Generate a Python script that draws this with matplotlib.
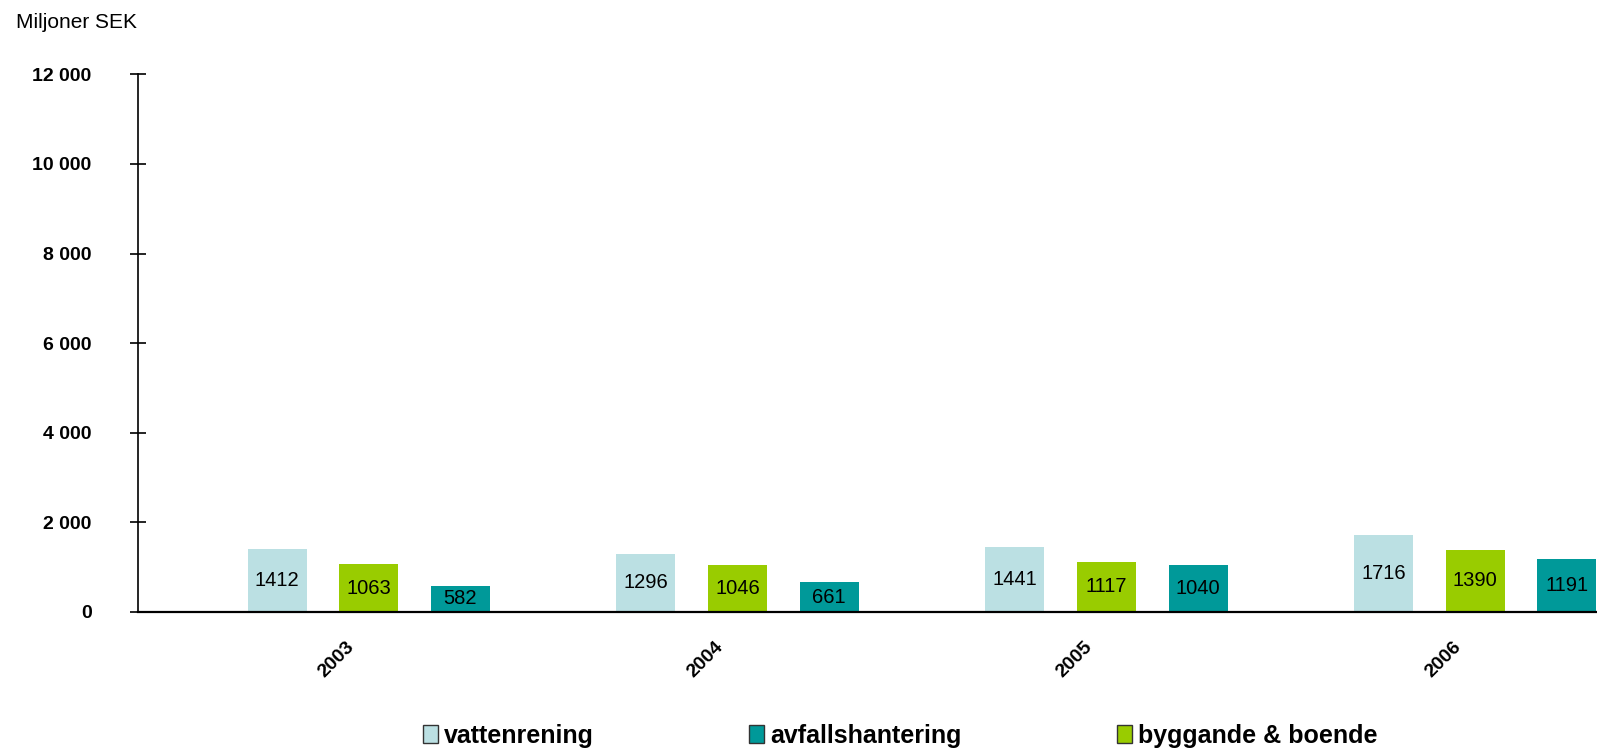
import matplotlib
matplotlib.use("Agg")
import matplotlib.pyplot as plt
from matplotlib.patches import Patch
from matplotlib.transforms import offset_copy
import numpy as np

plt.rcParams['font.family'] = ['Liberation Sans', 'DejaVu Sans']

years = ['2003', '2004', '2005', '2006']
vattenrening = [1412, 1296, 1441, 1716]
byggande = [1063, 1046, 1117, 1390]
avfall = [582, 661, 1040, 1191]

c_vatten = '#BBE0E3'
c_bygg = '#99CC00'
c_avfall = '#009999'

fig = plt.figure(figsize=(15.97, 7.56), dpi=100)
ax = fig.add_axes([0.0861, 0.1905, 1 - 0.0861, 0.9016 - 0.1905])

x = np.arange(len(years))
off = 0.2486
w = 0.16

# bar order in the chart: vatten, bygg, avfall
for series, color, dx in [(vattenrening, c_vatten, -off), (byggande, c_bygg, 0), (avfall, c_avfall, off)]:
    bars = ax.bar(x + dx, series, width=w, color=color, zorder=2)
    for b, v in zip(bars, series):
        ax.text(b.get_x() + b.get_width() / 2, v / 2, str(v), ha='center', va='center',
                fontsize=14.5, color='black', zorder=3)

ax.set_xlim(-0.627, 3.33)
ax.set_ylim(0, 12000)
ax.set_yticks(range(0, 12001, 2000))
ax.set_yticklabels([f'{v:,}'.replace(',', ' ') for v in range(0, 12001, 2000)],
                   fontsize=14, fontweight='bold')
ax.tick_params(axis='y', direction='inout', length=12, width=1.2, pad=27)

# year labels, rotated, sitting down-left of each category centre
ax.set_xticks(x)
ax.set_xticklabels([])
ax.tick_params(axis='x', length=0)
lab_tr = offset_copy(ax.transData, fig=fig, x=-23, y=-34, units='points')
for xi, yr in zip(x, years):
    ax.text(xi, 0, yr, transform=lab_tr, rotation=45, rotation_mode='anchor',
            ha='center', va='center', fontsize=14, fontweight='bold', clip_on=False)

for s in ['top', 'right']:
    ax.spines[s].set_visible(False)
ax.spines['left'].set_linewidth(1.2)
ax.spines['bottom'].set_linewidth(1.6)

fig.text(0.010, 0.970, 'Miljoner SEK', fontsize=15, ha='left', va='center')

handles = [Patch(facecolor=c_vatten, edgecolor='#333333', label='vattenrening'),
           Patch(facecolor=c_avfall, edgecolor='#333333', label='avfallshantering'),
           Patch(facecolor=c_bygg, edgecolor='#333333', label='byggande & boende')]
fig.legend(handles=handles, loc='center', bbox_to_anchor=(0.5636, 0.027), ncol=3, frameon=False,
           prop={'size': 18, 'weight': 'bold'}, handlelength=0.6, handleheight=0.7,
           handletextpad=0.25, columnspacing=6.2)

fig.savefig('out.png', dpi=100)
